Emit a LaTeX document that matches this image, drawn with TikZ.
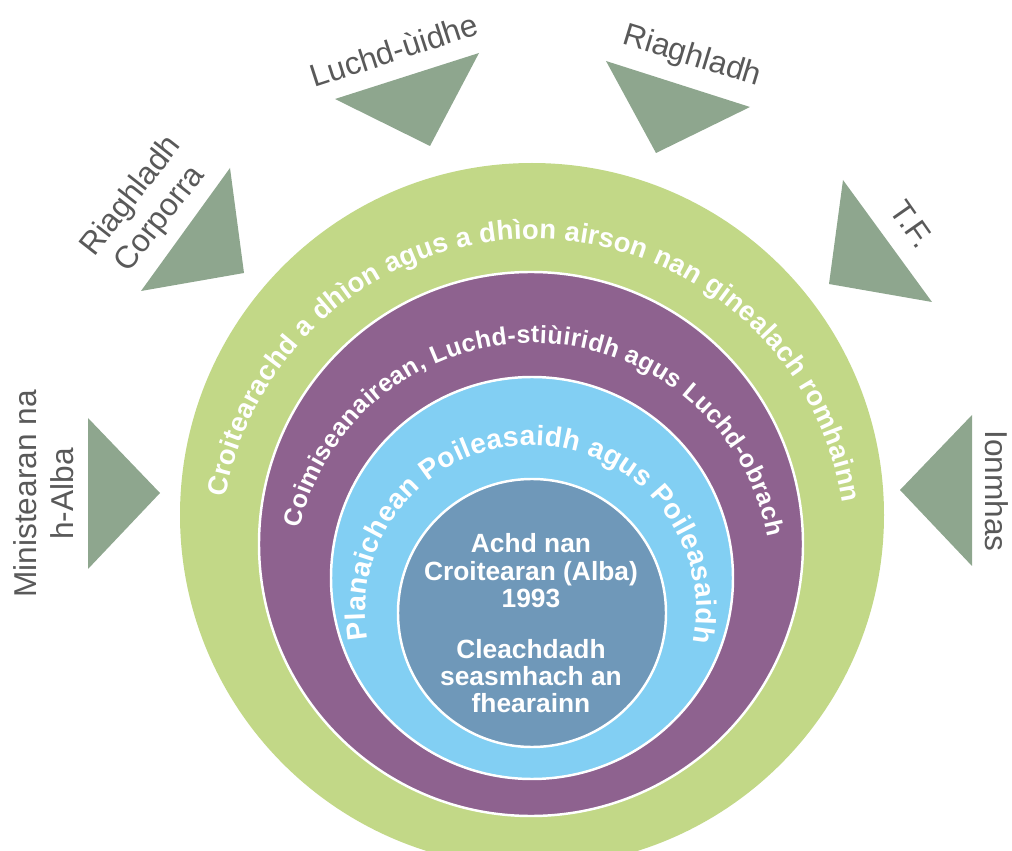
\documentclass[tikz,border=0pt]{standalone}
\usepackage{fontspec}
\setmainfont{Liberation Sans}
\usetikzlibrary{calc,decorations.text}
\definecolor{croftgreen}{HTML}{C2D887}
\definecolor{boardpurple}{HTML}{8E628F}
\definecolor{policyblue}{HTML}{82CFF3}
\definecolor{actblue}{HTML}{6F98B9}
\definecolor{wedgegreen}{HTML}{8EA68E}
\definecolor{labelgrey}{HTML}{595959}
\def\arctext[#1](#2)(#3:#4:#5)#6{\path[decorate,decoration={text along path,text align=fit to path,text color=white,text={|#1|#6}}] ($(#2)+({#5*cos(#3)},{#5*sin(#3)})$) arc (#3:#4:#5);}
\tikzset{outertext/.style={text=labelgrey,font=\fontsize{18pt}{21pt}\selectfont,align=center}}

\begin{document}
\begin{tikzpicture}[x=0.02cm,y=0.02cm]
			%%%%% START %%%%%
			\useasboundingbox (0,0) rectangle (1012,-851);
			
			\fill[wedgegreen] (230,-168) -- (244,-273) -- (141,-291) -- cycle;
			\fill[wedgegreen] (335,-99) -- (479,-53) -- (430,-146) -- cycle;
			\fill[wedgegreen] (606,-61) -- (750,-107) -- (656,-153) -- cycle;
			\fill[wedgegreen] (843,-180) -- (932,-302) -- (829,-284) -- cycle;
			\fill[wedgegreen] (88,-418) -- (160,-493) -- (88,-569) -- cycle;
			\fill[wedgegreen] (972,-415) -- (900,-490) -- (972,-566) -- cycle;
			
			\node[outertext, rotate=52] (corporate) at (146,-208) {Riaghladh\\Corporra};
			\node[outertext, rotate=18] (interest) at (394,-50) {Luchd-ùidhe};
			\node[outertext, rotate=-17] (regulation) at (692,-57) {Riaghladh};
			\node[outertext, rotate=-55] (it) at (912,-224) {T.F.};
			\node[outertext, rotate=90] (ministers) at (44,-494) {Ministearan na\\h-Alba};
			\node[outertext, rotate=-90] (finance) at (997,-491) {Ionmhas};
			
			\fill[croftgreen] (532,-515) circle (352);
			\draw[fill=boardpurple, draw=white, line width=1.4pt] (531,-544) circle (272);
			\draw[fill=policyblue, draw=white, line width=1.4pt] (532,-578) circle (201);
			\draw[fill=actblue, draw=white, line width=1.4pt] (532,-613) circle (134);
			
			\arctext[\bfseries\fontsize{15.6pt}{19pt}\selectfont](533.5,-551.8)(170:9:312.8){Croitearachd a dhìon agus a dhìon airson nan ginealach romhainn}
			\arctext[\bfseries\fontsize{14.2pt}{17pt}\selectfont](533,-582.2)(167:11:239.2){Coimiseanairean, Luchd-stiùiridh agus Luchd-obrach}
			\arctext[\bfseries\fontsize{16pt}{19pt}\selectfont](531,-610.4)(190:-11:165.4){Planaichean Poileasaidh agus Poileasaidh}
			
			\node[text=white, font=\bfseries\fontsize{15pt}{15.6pt}\selectfont, align=center] (act) at (531,-571) {Achd nan\\Croitearan (Alba)\\1993};
			\node[text=white, font=\bfseries\fontsize{15pt}{15.6pt}\selectfont, align=center] (practice) at (531,-676) {Cleachdadh\\seasmhach an\\fhearainn};
			%%%%% END %%%%%
\end{tikzpicture}
\end{document}
